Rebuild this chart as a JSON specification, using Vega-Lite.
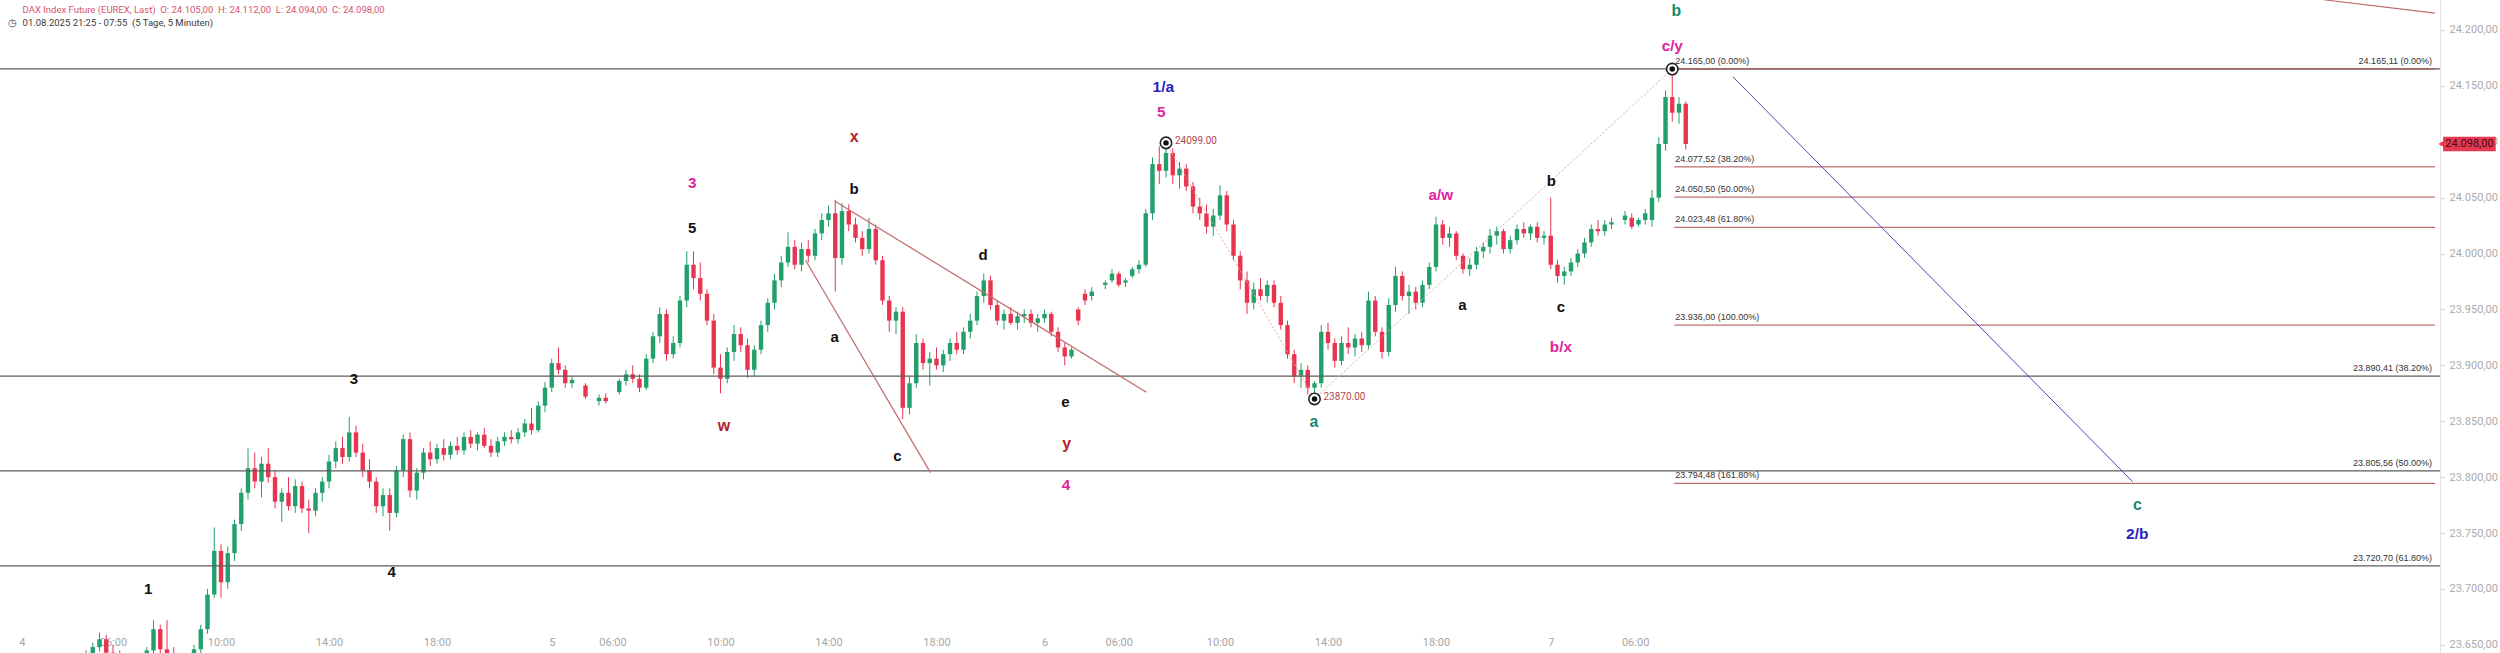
{
"$schema": "https://vega.github.io/schema/vega-lite/v6.json",
"width": 2440, "height": 653, "autosize": "none", "padding": {"left":0,"top":0,"right":60,"bottom":0}, "background": "white",
"config": {"view": {"stroke": null}, "font": "Roboto", "axis": {"title": null, "grid": false}},
"datasets": {
"candles": [
{"t":0,"o":23612,"h":23620,"l":23605,"c":23615},{"t":1,"o":23615,"h":23624,"l":23610,"c":23620},{"t":2,"o":23620,"h":23626,"l":23612,"c":23618},{"t":3,"o":23618,"h":23628,"l":23614,"c":23625},{"t":4,"o":23625,"h":23632,"l":23618,"c":23622},{"t":5,"o":23622,"h":23630,"l":23615,"c":23628},{"t":6,"o":23628,"h":23636,"l":23622,"c":23630},{"t":7,"o":23630,"h":23634,"l":23620,"c":23624},{"t":8,"o":23624,"h":23632,"l":23618,"c":23629},{"t":9,"o":23629,"h":23638,"l":23625,"c":23634},
{"t":10,"o":23634,"h":23640,"l":23626,"c":23631},{"t":11,"o":23631,"h":23638,"l":23624,"c":23636},{"t":12,"o":23636,"h":23645,"l":23630,"c":23641},{"t":13,"o":23641,"h":23652,"l":23636,"c":23648},{"t":14,"o":23648,"h":23661,"l":23644,"c":23655},{"t":15,"o":23655,"h":23659,"l":23640,"c":23643},{"t":16,"o":23643,"h":23650,"l":23633,"c":23638},{"t":17,"o":23638,"h":23645,"l":23628,"c":23632},{"t":18,"o":23632,"h":23640,"l":23624,"c":23636},{"t":19,"o":23636,"h":23642,"l":23628,"c":23630},
{"t":20,"o":23630,"h":23638,"l":23622,"c":23634},{"t":21,"o":23634,"h":23648,"l":23630,"c":23645},{"t":22,"o":23645,"h":23672,"l":23642,"c":23664},{"t":23,"o":23664,"h":23668,"l":23640,"c":23646},{"t":24,"o":23646,"h":23672,"l":23638,"c":23642},{"t":25,"o":23642,"h":23648,"l":23630,"c":23636},{"t":26,"o":23636,"h":23642,"l":23625,"c":23632},{"t":27,"o":23632,"h":23640,"l":23626,"c":23638},{"t":28,"o":23638,"h":23650,"l":23634,"c":23646},{"t":29,"o":23646,"h":23668,"l":23642,"c":23664},
{"t":30,"o":23664,"h":23700,"l":23660,"c":23695},{"t":31,"o":23695,"h":23755,"l":23692,"c":23734},{"t":32,"o":23734,"h":23740,"l":23692,"c":23706},{"t":33,"o":23706,"h":23738,"l":23700,"c":23732},{"t":34,"o":23732,"h":23762,"l":23725,"c":23758},{"t":35,"o":23758,"h":23790,"l":23752,"c":23786},{"t":36,"o":23786,"h":23826,"l":23780,"c":23808},{"t":37,"o":23808,"h":23822,"l":23790,"c":23796},{"t":38,"o":23796,"h":23818,"l":23782,"c":23812},{"t":39,"o":23812,"h":23826,"l":23795,"c":23800},
{"t":40,"o":23800,"h":23806,"l":23772,"c":23778},{"t":41,"o":23778,"h":23790,"l":23760,"c":23786},{"t":42,"o":23786,"h":23800,"l":23770,"c":23774},{"t":43,"o":23774,"h":23798,"l":23768,"c":23792},{"t":44,"o":23792,"h":23796,"l":23768,"c":23772},{"t":45,"o":23772,"h":23780,"l":23750,"c":23770},{"t":46,"o":23770,"h":23790,"l":23765,"c":23786},{"t":47,"o":23786,"h":23800,"l":23778,"c":23796},{"t":48,"o":23796,"h":23820,"l":23790,"c":23814},{"t":49,"o":23814,"h":23832,"l":23808,"c":23826},
{"t":50,"o":23826,"h":23836,"l":23812,"c":23818},{"t":51,"o":23818,"h":23854,"l":23814,"c":23840},{"t":52,"o":23840,"h":23846,"l":23818,"c":23822},{"t":53,"o":23822,"h":23830,"l":23800,"c":23806},{"t":54,"o":23806,"h":23816,"l":23790,"c":23796},{"t":55,"o":23796,"h":23800,"l":23768,"c":23774},{"t":56,"o":23774,"h":23790,"l":23765,"c":23784},{"t":57,"o":23784,"h":23790,"l":23752,"c":23768},{"t":58,"o":23768,"h":23810,"l":23764,"c":23806},{"t":59,"o":23806,"h":23838,"l":23800,"c":23834},
{"t":60,"o":23834,"h":23840,"l":23782,"c":23788},{"t":61,"o":23788,"h":23808,"l":23780,"c":23804},{"t":62,"o":23804,"h":23826,"l":23798,"c":23822},{"t":63,"o":23822,"h":23832,"l":23810,"c":23816},{"t":64,"o":23816,"h":23830,"l":23812,"c":23826},{"t":65,"o":23826,"h":23834,"l":23815,"c":23820},{"t":66,"o":23820,"h":23832,"l":23816,"c":23828},{"t":67,"o":23828,"h":23836,"l":23820,"c":23824},{"t":68,"o":23824,"h":23840,"l":23820,"c":23836},{"t":69,"o":23836,"h":23842,"l":23826,"c":23830},
{"t":70,"o":23830,"h":23840,"l":23824,"c":23838},{"t":71,"o":23838,"h":23844,"l":23826,"c":23828},{"t":72,"o":23828,"h":23834,"l":23818,"c":23822},{"t":73,"o":23822,"h":23836,"l":23818,"c":23832},{"t":74,"o":23832,"h":23840,"l":23828,"c":23836},{"t":75,"o":23836,"h":23842,"l":23830,"c":23834},{"t":76,"o":23834,"h":23844,"l":23830,"c":23840},{"t":77,"o":23840,"h":23852,"l":23836,"c":23848},{"t":78,"o":23848,"h":23862,"l":23838,"c":23842},{"t":79,"o":23842,"h":23868,"l":23840,"c":23864},
{"t":80,"o":23864,"h":23885,"l":23858,"c":23880},{"t":81,"o":23880,"h":23906,"l":23876,"c":23902},{"t":82,"o":23902,"h":23916,"l":23892,"c":23896},{"t":83,"o":23896,"h":23900,"l":23880,"c":23884},{"t":84,"o":23884,"h":23890,"l":23880,"c":23887},{"t":86,"o":23882,"h":23884,"l":23870,"c":23872},{"t":88,"o":23868,"h":23874,"l":23864,"c":23871},{"t":89,"o":23871,"h":23875,"l":23866,"c":23868},{"t":91,"o":23876,"h":23888,"l":23874,"c":23886},{"t":92,"o":23886,"h":23896,"l":23882,"c":23892},
{"t":93,"o":23892,"h":23900,"l":23884,"c":23888},{"t":94,"o":23888,"h":23892,"l":23876,"c":23880},{"t":95,"o":23880,"h":23910,"l":23878,"c":23906},{"t":96,"o":23906,"h":23930,"l":23902,"c":23926},{"t":97,"o":23926,"h":23952,"l":23920,"c":23946},{"t":98,"o":23946,"h":23950,"l":23904,"c":23910},{"t":99,"o":23910,"h":23926,"l":23906,"c":23920},{"t":100,"o":23920,"h":23962,"l":23916,"c":23958},{"t":101,"o":23958,"h":24002,"l":23952,"c":23990},{"t":102,"o":23990,"h":24002,"l":23968,"c":23978},
{"t":103,"o":23978,"h":23992,"l":23958,"c":23964},{"t":104,"o":23964,"h":23968,"l":23936,"c":23940},{"t":105,"o":23940,"h":23946,"l":23892,"c":23898},{"t":106,"o":23898,"h":23910,"l":23875,"c":23888},{"t":107,"o":23888,"h":23916,"l":23884,"c":23912},{"t":108,"o":23912,"h":23936,"l":23904,"c":23928},{"t":109,"o":23928,"h":23934,"l":23912,"c":23918},{"t":110,"o":23918,"h":23924,"l":23889,"c":23896},{"t":111,"o":23896,"h":23918,"l":23890,"c":23914},{"t":112,"o":23914,"h":23940,"l":23910,"c":23936},
{"t":113,"o":23936,"h":23960,"l":23930,"c":23956},{"t":114,"o":23956,"h":23982,"l":23950,"c":23976},{"t":115,"o":23976,"h":23998,"l":23970,"c":23992},{"t":116,"o":23992,"h":24019,"l":23988,"c":24006},{"t":117,"o":24006,"h":24012,"l":23986,"c":23990},{"t":118,"o":23990,"h":24010,"l":23984,"c":24004},{"t":119,"o":24004,"h":24012,"l":23992,"c":23998},{"t":120,"o":23998,"h":24022,"l":23994,"c":24018},{"t":121,"o":24018,"h":24036,"l":24012,"c":24030},{"t":122,"o":24030,"h":24043,"l":24024,"c":24036},
{"t":123,"o":24036,"h":24048,"l":23966,"c":23996},{"t":124,"o":23996,"h":24045,"l":23990,"c":24038},{"t":125,"o":24038,"h":24044,"l":24020,"c":24026},{"t":126,"o":24026,"h":24032,"l":24010,"c":24014},{"t":127,"o":24014,"h":24020,"l":23998,"c":24004},{"t":128,"o":24004,"h":24032,"l":24000,"c":24022},{"t":129,"o":24022,"h":24026,"l":23990,"c":23994},{"t":130,"o":23994,"h":23998,"l":23954,"c":23958},{"t":131,"o":23958,"h":23962,"l":23930,"c":23940},{"t":132,"o":23940,"h":23952,"l":23928,"c":23948},
{"t":133,"o":23948,"h":23952,"l":23852,"c":23862},{"t":134,"o":23862,"h":23890,"l":23856,"c":23884},{"t":135,"o":23884,"h":23928,"l":23880,"c":23920},{"t":136,"o":23920,"h":23924,"l":23896,"c":23902},{"t":137,"o":23902,"h":23912,"l":23882,"c":23906},{"t":138,"o":23906,"h":23916,"l":23896,"c":23900},{"t":139,"o":23900,"h":23914,"l":23894,"c":23910},{"t":140,"o":23910,"h":23924,"l":23904,"c":23920},{"t":141,"o":23920,"h":23930,"l":23910,"c":23914},{"t":142,"o":23914,"h":23934,"l":23910,"c":23930},
{"t":143,"o":23930,"h":23946,"l":23924,"c":23940},{"t":144,"o":23940,"h":23966,"l":23936,"c":23962},{"t":145,"o":23962,"h":23982,"l":23956,"c":23976},{"t":146,"o":23976,"h":23980,"l":23950,"c":23954},{"t":147,"o":23954,"h":23958,"l":23936,"c":23940},{"t":148,"o":23940,"h":23950,"l":23932,"c":23946},{"t":149,"o":23946,"h":23952,"l":23936,"c":23938},{"t":150,"o":23938,"h":23948,"l":23932,"c":23944},{"t":151,"o":23944,"h":23950,"l":23938,"c":23946},{"t":152,"o":23946,"h":23950,"l":23934,"c":23938},
{"t":153,"o":23938,"h":23946,"l":23930,"c":23942},{"t":154,"o":23942,"h":23950,"l":23938,"c":23946},{"t":155,"o":23946,"h":23948,"l":23926,"c":23930},{"t":156,"o":23930,"h":23934,"l":23912,"c":23916},{"t":157,"o":23916,"h":23920,"l":23900,"c":23908},{"t":158,"o":23908,"h":23916,"l":23906,"c":23914},{"t":159,"o":23950,"h":23952,"l":23936,"c":23940},{"t":160,"o":23964,"h":23968,"l":23954,"c":23958},{"t":161,"o":23962,"h":23970,"l":23958,"c":23966},{"t":163,"o":23972,"h":23976,"l":23968,"c":23974},
{"t":164,"o":23976,"h":23986,"l":23974,"c":23982},{"t":165,"o":23982,"h":23984,"l":23970,"c":23972},{"t":166,"o":23974,"h":23978,"l":23970,"c":23976},{"t":167,"o":23980,"h":23988,"l":23978,"c":23986},{"t":168,"o":23986,"h":23994,"l":23982,"c":23990},{"t":169,"o":23990,"h":24040,"l":23988,"c":24036},{"t":170,"o":24036,"h":24086,"l":24030,"c":24080},{"t":171,"o":24080,"h":24096,"l":24062,"c":24074},{"t":172,"o":24074,"h":24099,"l":24068,"c":24090},{"t":173,"o":24090,"h":24094,"l":24062,"c":24070},
{"t":174,"o":24070,"h":24082,"l":24058,"c":24076},{"t":175,"o":24076,"h":24080,"l":24056,"c":24060},{"t":176,"o":24060,"h":24064,"l":24036,"c":24042},{"t":177,"o":24042,"h":24050,"l":24030,"c":24036},{"t":178,"o":24036,"h":24044,"l":24018,"c":24024},{"t":179,"o":24024,"h":24040,"l":24016,"c":24034},{"t":180,"o":24034,"h":24061,"l":24030,"c":24052},{"t":181,"o":24052,"h":24056,"l":24020,"c":24026},{"t":182,"o":24026,"h":24030,"l":23994,"c":23998},{"t":183,"o":23998,"h":24002,"l":23968,"c":23976},
{"t":184,"o":23976,"h":23984,"l":23946,"c":23956},{"t":185,"o":23956,"h":23974,"l":23950,"c":23968},{"t":186,"o":23968,"h":23978,"l":23958,"c":23962},{"t":187,"o":23962,"h":23976,"l":23956,"c":23972},{"t":188,"o":23972,"h":23976,"l":23952,"c":23956},{"t":189,"o":23956,"h":23962,"l":23932,"c":23936},{"t":190,"o":23936,"h":23940,"l":23906,"c":23910},{"t":191,"o":23910,"h":23914,"l":23884,"c":23890},{"t":192,"o":23890,"h":23902,"l":23880,"c":23896},{"t":193,"o":23896,"h":23900,"l":23874,"c":23880},
{"t":194,"o":23880,"h":23886,"l":23870,"c":23884},{"t":195,"o":23884,"h":23936,"l":23880,"c":23930},{"t":196,"o":23930,"h":23938,"l":23914,"c":23920},{"t":197,"o":23920,"h":23924,"l":23898,"c":23904},{"t":198,"o":23904,"h":23926,"l":23900,"c":23920},{"t":199,"o":23920,"h":23934,"l":23910,"c":23916},{"t":200,"o":23916,"h":23928,"l":23908,"c":23924},{"t":201,"o":23924,"h":23930,"l":23912,"c":23918},{"t":202,"o":23918,"h":23966,"l":23914,"c":23958},{"t":203,"o":23958,"h":23962,"l":23926,"c":23930},
{"t":204,"o":23930,"h":23934,"l":23906,"c":23912},{"t":205,"o":23912,"h":23960,"l":23908,"c":23954},{"t":206,"o":23954,"h":23988,"l":23948,"c":23980},{"t":207,"o":23980,"h":23984,"l":23958,"c":23962},{"t":208,"o":23962,"h":23972,"l":23946,"c":23966},{"t":209,"o":23966,"h":23970,"l":23950,"c":23956},{"t":210,"o":23956,"h":23976,"l":23952,"c":23972},{"t":211,"o":23972,"h":23992,"l":23968,"c":23988},{"t":212,"o":23988,"h":24033,"l":23984,"c":24026},{"t":213,"o":24026,"h":24030,"l":24008,"c":24014},
{"t":214,"o":24014,"h":24024,"l":24006,"c":24018},{"t":215,"o":24018,"h":24020,"l":23994,"c":23998},{"t":216,"o":23998,"h":24000,"l":23982,"c":23986},{"t":217,"o":23986,"h":23996,"l":23980,"c":23990},{"t":218,"o":23990,"h":24006,"l":23986,"c":24002},{"t":219,"o":24002,"h":24010,"l":23996,"c":24006},{"t":220,"o":24006,"h":24022,"l":24000,"c":24016},{"t":221,"o":24016,"h":24024,"l":24008,"c":24020},{"t":222,"o":24020,"h":24022,"l":24000,"c":24004},{"t":223,"o":24004,"h":24016,"l":24000,"c":24012},
{"t":224,"o":24012,"h":24026,"l":24008,"c":24022},{"t":225,"o":24022,"h":24028,"l":24014,"c":24018},{"t":226,"o":24018,"h":24026,"l":24012,"c":24024},{"t":227,"o":24024,"h":24028,"l":24010,"c":24014},{"t":228,"o":24014,"h":24020,"l":24008,"c":24016},{"t":229,"o":24016,"h":24050,"l":23986,"c":23990},{"t":230,"o":23990,"h":23994,"l":23974,"c":23980},{"t":231,"o":23980,"h":23988,"l":23972,"c":23984},{"t":232,"o":23984,"h":23996,"l":23980,"c":23992},{"t":233,"o":23992,"h":24004,"l":23988,"c":24000},
{"t":234,"o":24000,"h":24014,"l":23996,"c":24010},{"t":235,"o":24010,"h":24026,"l":24006,"c":24022},{"t":236,"o":24022,"h":24030,"l":24016,"c":24020},{"t":237,"o":24020,"h":24030,"l":24016,"c":24026},{"t":238,"o":24026,"h":24032,"l":24022,"c":24028},{"t":240,"o":24030,"h":24038,"l":24026,"c":24034},{"t":241,"o":24032,"h":24036,"l":24022,"c":24024},{"t":242,"o":24026,"h":24032,"l":24024,"c":24030},{"t":243,"o":24030,"h":24040,"l":24026,"c":24036},{"t":244,"o":24030,"h":24057,"l":24024,"c":24050},
{"t":245,"o":24050,"h":24104,"l":24046,"c":24098},{"t":246,"o":24098,"h":24146,"l":24092,"c":24140},{"t":247,"o":24140,"h":24165,"l":24118,"c":24126},{"t":248,"o":24126,"h":24140,"l":24116,"c":24134},{"t":249,"o":24134,"h":24136,"l":24093,"c":24098}
],
"grayfib": [
{"p":24165.11,"s":"24.165,11 (0.00%)"},{"p":23890.41,"s":"23.890,41 (38.20%)"},{"p":23805.56,"s":"23.805,56 (50.00%)"},{"p":23720.70,"s":"23.720,70 (61.80%)"}
],
"redfib": [
{"p":24165,"s":"24.165,00 (0.00%)"},{"p":24077.52,"s":"24.077,52 (38.20%)"},{"p":24050.5,"s":"24.050,50 (50.00%)"},{"p":24023.48,"s":"24.023,48 (61.80%)"},{"p":23936,"s":"23.936,00 (100.00%)"},{"p":23794.48,"s":"23.794,48 (161.80%)"}
],
"segs": [
{"t1":122.9,"p1":24047,"t2":169.1,"p2":23876,"k":"tri"},
{"t1":118.6,"p1":23994,"t2":137.1,"p2":23804,"k":"tri"},
{"t1":343.5,"p1":24227,"t2":360,"p2":24215,"k":"tri"},
{"t1":256,"p1":24158,"t2":315.2,"p2":23796,"k":"blue"}
],
"zig": [
{"i":0,"t":172,"p":24099},{"i":1,"t":194,"p":23870},{"i":2,"t":247,"p":24165}
],
"marks": [
{"t":172,"p":24099,"s":"24099.00"},{"t":194,"p":23870,"s":"23870.00"},{"t":247,"p":24165,"s":""}
],
"waves": [
{"t":21.2,"p":23700,"s":"1","k":"blk"},{"t":51.7,"p":23888,"s":"3","k":"blk"},{"t":57.3,"p":23715,"s":"4","k":"blk"},
{"t":101.8,"p":24023,"s":"5","k":"blk"},{"t":101.8,"p":24063,"s":"3","k":"mag"},{"t":106.5,"p":23846,"s":"w","k":"red"},
{"t":125.8,"p":24104,"s":"x","k":"red"},{"t":125.8,"p":24058,"s":"b","k":"blk"},{"t":122.9,"p":23925,"s":"a","k":"blk"},
{"t":132.2,"p":23819,"s":"c","k":"blk"},{"t":144.9,"p":23999,"s":"d","k":"blk"},{"t":157.1,"p":23867,"s":"e","k":"blk"},
{"t":157.3,"p":23830,"s":"y","k":"red"},{"t":157.2,"p":23793,"s":"4","k":"mag"},{"t":171.6,"p":24149,"s":"1/a","k":"blu"},
{"t":171.3,"p":24127,"s":"5","k":"mag"},{"t":193.9,"p":23849,"s":"a","k":"teal"},{"t":212.7,"p":24052,"s":"a/w","k":"mag"},
{"t":215.9,"p":23954,"s":"a","k":"blk"},{"t":229.1,"p":24065,"s":"b","k":"blk"},{"t":230.5,"p":23952,"s":"c","k":"blk"},
{"t":230.5,"p":23916,"s":"b/x","k":"mag"},{"t":247.6,"p":24217,"s":"b","k":"teal"},{"t":247,"p":24186,"s":"c/y","k":"mag"},
{"t":315.9,"p":23775,"s":"c","k":"teal"},{"t":315.9,"p":23749,"s":"2/b","k":"blu"}
],
"header": [
{"t":2.6,"p":24217.9,"s":"DAX Index Future (EUREX, Last)\u00a0 O: 24.105,00\u00a0 H: 24.112,00\u00a0 L: 24.094,00\u00a0 C: 24.098,00","k":"h1"},
{"t":2.6,"p":24206.3,"s":"01.08.2025 21:25 - 07:55\u00a0 (5 Tage, 5 Minuten)","k":"h2"},
{"t":0.5,"p":24206.3,"s":"\u25f7","k":"h2"}
],
"tag": [
{"t":361.2,"t2":369,"p":24098,"lo":24091.5,"hi":24104.5,"s":"24.098,00"}
]
},
"layer": [
{"data":{"name":"candles"},"mark":{"type":"rule","strokeWidth":1,"clip":true},
 "encoding":{"x":{"field":"t","type":"quantitative","scale":{"domain":[0,360],"nice":false,"zero":false},
   "axis":{"orient":"bottom","title":null,"grid":false,"domain":false,"ticks":false,"offset":-17,"labelPadding":0,"labelColor":"#a6a6a6","labelFontSize":11,"labelFont":"Roboto",
   "values":[2.5,16,32,48,64,81,90,106,122,138,154,165,180,196,212,229,241.5],
   "labelExpr":"['4','06:00','10:00','14:00','18:00','5','06:00','10:00','14:00','18:00','6','06:00','10:00','14:00','18:00','7','06:00'][indexof([2.5,16,32,48,64,81,90,106,122,138,154,165,180,196,212,229,241.5], datum.value)]"}},
 "y":{"field":"l","type":"quantitative","scale":{"domain":[23642.7,24226.8],"nice":false,"zero":false},
   "axis":{"orient":"right","title":null,"grid":false,"domainColor":"#e4e4e4","tickColor":"#d0d0d0","tickSize":4,"labelPadding":5,"labelColor":"#ababab","labelFontSize":11,"labelFont":"Roboto",
   "values":[23650,23700,23750,23800,23850,23900,23950,24000,24050,24100,24150,24200],
   "labelExpr":"replace(replace(replace(format(datum.value, ',.2f'), ',', '#'), '.', ','), '#', '.')"}},
 "y2":{"field":"h"},
 "color":{"condition":{"test":"datum.c >= datum.o","value":"#22a06b"},"value":"#e8344f"}}},
{"data":{"name":"candles"},"mark":{"type":"bar","width":4.4,"clip":true},
 "encoding":{"x":{"field":"t","type":"quantitative"},
 "y":{"field":"o","type":"quantitative"},"y2":{"field":"c"},
 "color":{"condition":{"test":"datum.c >= datum.o","value":"#22a06b"},"value":"#e8344f"}}},
{"data":{"name":"grayfib"},"mark":{"type":"rule","color":"#5c5c5c","strokeWidth":1.3},
 "encoding":{"y":{"field":"p","type":"quantitative"}}},
{"data":{"name":"redfib"},"mark":{"type":"rule","color":"#b04848","strokeWidth":1},
 "encoding":{"x":{"datum":247.3,"type":"quantitative"},"x2":{"datum":360},
 "y":{"field":"p","type":"quantitative"}}},
{"data":{"name":"zig"},"mark":{"type":"line","color":"#e2a4a4","strokeWidth":1,"strokeDash":[2,2]},
 "encoding":{"x":{"field":"t","type":"quantitative"},
 "y":{"field":"p","type":"quantitative"},"order":{"field":"i"}}},
{"data":{"name":"segs"},"transform":[{"filter":"datum.k == 'tri'"}],"mark":{"type":"rule","color":"#c06a6a","strokeWidth":1.2},
 "encoding":{"x":{"field":"t1","type":"quantitative"},"x2":{"field":"t2"},
 "y":{"field":"p1","type":"quantitative"},"y2":{"field":"p2"}}},
{"data":{"name":"segs"},"transform":[{"filter":"datum.k == 'blue'"}],"mark":{"type":"rule","color":"#4f46c2","strokeWidth":1},
 "encoding":{"x":{"field":"t1","type":"quantitative"},"x2":{"field":"t2"},
 "y":{"field":"p1","type":"quantitative"},"y2":{"field":"p2"}}},
{"data":{"name":"marks"},"mark":{"type":"point","shape":"circle","size":130,"filled":true,"fill":"white","stroke":"#222222","strokeWidth":1.6,"opacity":1},
 "encoding":{"x":{"field":"t","type":"quantitative"},
 "y":{"field":"p","type":"quantitative"}}},
{"data":{"name":"marks"},"mark":{"type":"point","shape":"circle","size":30,"filled":true,"color":"#111111","opacity":1},
 "encoding":{"x":{"field":"t","type":"quantitative"},
 "y":{"field":"p","type":"quantitative"}}},
{"data":{"name":"marks"},"mark":{"type":"text","align":"left","baseline":"middle","dx":9,"dy":-2,"fontSize":10,"color":"#b04a4a","font":"Roboto"},
 "encoding":{"x":{"field":"t","type":"quantitative"},
 "y":{"field":"p","type":"quantitative"},"text":{"field":"s"}}},
{"data":{"name":"grayfib"},"mark":{"type":"text","align":"right","baseline":"bottom","dx":-3,"dy":-3,"fontSize":9,"color":"#333333","font":"'Liberation Sans Narrow', 'Liberation Sans', sans-serif"},
 "encoding":{"x":{"datum":360,"type":"quantitative"},
 "y":{"field":"p","type":"quantitative"},"text":{"field":"s"}}},
{"data":{"name":"redfib"},"mark":{"type":"text","align":"left","baseline":"bottom","dx":1,"dy":-3,"fontSize":9,"color":"#333333","font":"'Liberation Sans Narrow', 'Liberation Sans', sans-serif"},
 "encoding":{"x":{"datum":247.3,"type":"quantitative"},
 "y":{"field":"p","type":"quantitative"},"text":{"field":"s"}}},
{"data":{"name":"waves"},"mark":{"type":"text","align":"center","baseline":"middle","fontWeight":"bold","font":"'Liberation Sans Narrow', 'Liberation Sans', sans-serif"},
 "encoding":{"x":{"field":"t","type":"quantitative"},
 "y":{"field":"p","type":"quantitative"},"text":{"field":"s"},
 "color":{"field":"k","type":"nominal","scale":{"domain":["blk","mag","blu","teal","red"],"range":["#111111","#e0239b","#2b1fc4","#178a6e","#b3222d"]},"legend":null},
 "size":{"field":"k","type":"ordinal","scale":{"domain":["blk","mag","blu","teal","red"],"range":[15,16,19,16,16]},"legend":null}}},
{"data":{"name":"header"},"transform":[{"filter":"datum.k == 'h1'"}],"mark":{"type":"text","align":"left","baseline":"middle","fontSize":9.5,"color":"#d4546e","font":"Roboto"},
 "encoding":{"x":{"field":"t","type":"quantitative"},
 "y":{"field":"p","type":"quantitative"},"text":{"field":"s"}}},
{"data":{"name":"header"},"transform":[{"filter":"datum.k == 'h2'"}],"mark":{"type":"text","align":"left","baseline":"middle","fontSize":9.5,"color":"#3a3a3a","font":"Roboto"},
 "encoding":{"x":{"field":"t","type":"quantitative"},
 "y":{"field":"p","type":"quantitative"},"text":{"field":"s"}}},
{"data":{"name":"tag"},"mark":{"type":"rect","color":"#e63a52","clip":false},
 "encoding":{"x":{"field":"t","type":"quantitative"},"x2":{"field":"t2"},
 "y":{"field":"lo","type":"quantitative"},"y2":{"field":"hi"}}},
{"data":{"name":"tag"},"mark":{"type":"point","shape":"triangle-left","size":60,"filled":true,"color":"#e63a52","opacity":1},
 "encoding":{"x":{"datum":361.0,"type":"quantitative"},
 "y":{"field":"p","type":"quantitative"}}},
{"data":{"name":"tag"},"mark":{"type":"text","align":"center","baseline":"middle","fontSize":11,"color":"#4a0712","font":"Roboto"},
 "encoding":{"x":{"datum":365.1,"type":"quantitative"},
 "y":{"field":"p","type":"quantitative"},"text":{"field":"s"}}}
]
}
